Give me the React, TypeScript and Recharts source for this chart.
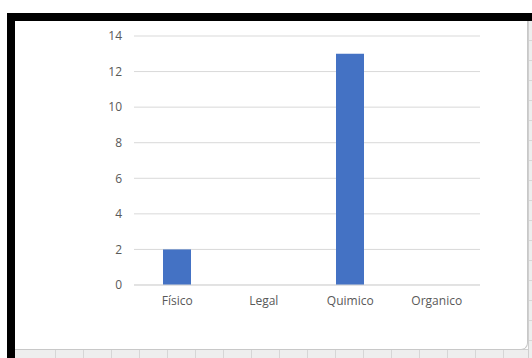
import React from "react";
import { BarChart, Bar, XAxis, YAxis, CartesianGrid } from "recharts";

// Categories and counts
const categories: string[] = ["Físico", "Legal", "Quimico", "Organico"];
const counts: number[] = [2, 0, 13, 0];
const yTicks: number[] = [0, 2, 4, 6, 8, 10, 12, 14];

const data = categories.map((name, i) => ({ name, value: counts[i] }));

const FONT = "'Open Sans', 'Liberation Sans', sans-serif";
const TEXT = "#595959";
const GRID = "#d9d9d9";
const BAR = "#4472c4";

// Spreadsheet cell lines drawn behind the chart frame
const cellLines =
  "repeating-linear-gradient(90deg, #eeeeee 0px, #eeeeee 27px, #d6d6d6 27px, #d6d6d6 28px)";
const cellRows =
  "repeating-linear-gradient(180deg, #eeeeee 0px, #eeeeee 19px, #d6d6d6 19px, #d6d6d6 20px)";

export default function App() {
  return (
    <div
      style={{
        position: "absolute",
        left: 0,
        top: 0,
        width: 532,
        height: 358,
        background: "#ffffff",
        overflow: "hidden",
      }}
    >
      {/* sheet grid below and right of the chart */}
      <div
        style={{
          position: "absolute",
          left: 15,
          top: 349,
          width: 517,
          height: 9,
          background: cellLines,
          borderTop: "1px solid #cfcfcf",
          backgroundPosition: "13px 0",
        }}
      />
      <div
        style={{
          position: "absolute",
          left: 528,
          top: 21,
          width: 4,
          height: 337,
          background: cellRows,
          borderLeft: "1px solid #cfcfcf",
        }}
      />
      {/* heavy frame */}
      <div style={{ position: "absolute", left: 7, top: 13, width: 525, height: 8, background: "#000" }} />
      <div style={{ position: "absolute", left: 7, top: 13, width: 8, height: 345, background: "#000" }} />
      {/* chart area */}
      <div
        style={{
          position: "absolute",
          left: 15,
          top: 21,
          width: 512,
          height: 328,
          background: "#ffffff",
          borderRight: "1px solid #c8c8c8",
          borderBottom: "1px solid #c8c8c8",
          borderBottomRightRadius: 7,
        }}
      >
        <BarChart
          width={512}
          height={328}
          data={data}
          margin={{ top: 15, right: 47, bottom: 34, left: 0 }}
          barSize={28}
        >
          <CartesianGrid vertical={false} stroke={GRID} strokeWidth={1} />
          <XAxis
            dataKey="name"
            height={30}
            axisLine={{ stroke: GRID }}
            tickLine={false}
            tickSize={6}
            tickMargin={5}
            tick={{ fill: TEXT, fontSize: 12, fontFamily: FONT }}
            interval={0}
          />
          <YAxis
            width={119}
            domain={[0, 14]}
            ticks={yTicks}
            axisLine={false}
            tickLine={false}
            tickSize={6}
            tickMargin={6}
            tick={{ fill: TEXT, fontSize: 12, fontFamily: FONT }}
            interval={0}
          />
          <Bar dataKey="value" fill={BAR} isAnimationActive={false} />
        </BarChart>
      </div>
    </div>
  );
}
